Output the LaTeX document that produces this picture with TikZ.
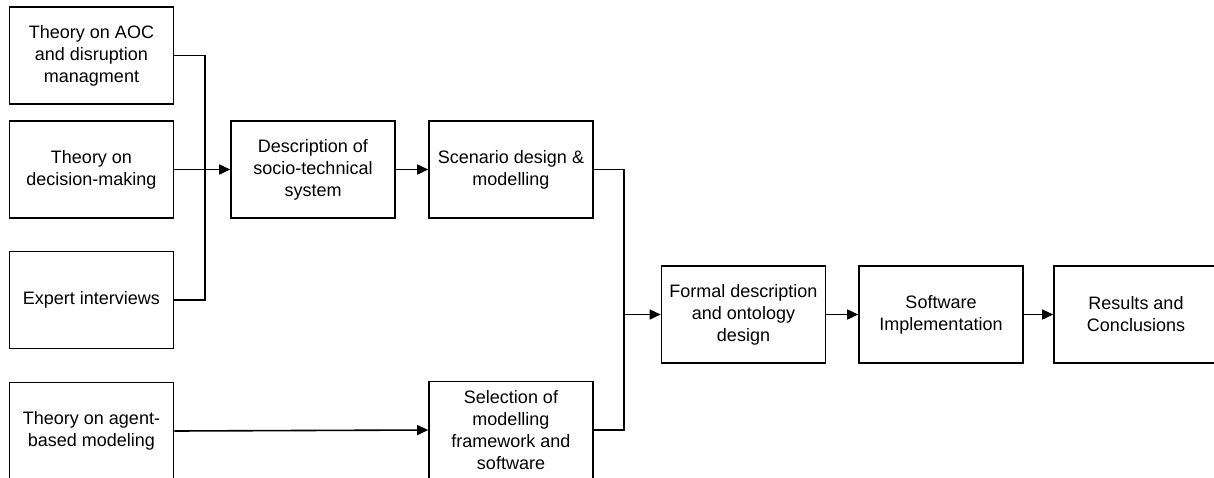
\documentclass[tikz,border=0pt]{standalone}
\usepackage{fontspec}
\setmainfont{Liberation Sans}
\usetikzlibrary{arrows.meta}
\begin{document}
\begin{tikzpicture}[x=1pt,y=-1pt,
  stepbox/.style={draw=black,line width=1.6pt,minimum width=164pt,minimum height=97pt,
    inner sep=0pt,align=center,font=\fontsize{18}{22}\selectfont},
  link/.style={draw=black,line width=1.6pt},
  flow/.style={link,-{Triangle[length=11pt,width=10pt]}}]
\useasboundingbox (0,0) rectangle (1214,477);
\clip (0,0) rectangle (1214,477);
% input sources
\node[stepbox] (A) at (91.5,55.5)  {Theory on AOC\\and disruption\\managment};
\node[stepbox] (B) at (91.5,169.5) {Theory on\\decision-making};
\node[stepbox] (C) at (91.5,300)   {Expert interviews};
\node[stepbox] (D) at (91.5,431)   {Theory on agent-\\based modeling};
% analysis steps
\node[stepbox] (E) at (313,169.5) {Description of\\socio-technical\\system};
\node[stepbox] (F) at (511,169.5) {Scenario design \&\\modelling};
\node[stepbox] (J) at (511,430)   {Selection of\\modelling\\framework and\\software};
% main chain
\node[stepbox] (G) at (743.5,314.5) {Formal description\\and ontology\\design};
\node[stepbox] (H) at (941,314.5)   {Software\\Implementation};
\node[stepbox] (I) at (1136,314.5)  {Results and\\Conclusions};
% collecting bus on the left
\coordinate (busL) at (205,0);
\draw[link] (A.east) -- (A.east -| busL) -- (C.east -| busL) -- (C.east);
\draw[flow] (B.east) -- (E.west);
\draw[flow] (E.east) -- (F.west);
\draw[flow] (D.east) -- (J.west);
% collecting bus in the middle
\coordinate (busM) at (624,0);
\draw[link] (F.east) -- (F.east -| busM) -- (J.east -| busM) -- (J.east);
\draw[flow] (G.west -| busM) -- (G.west);
\draw[flow] (G.east) -- (H.west);
\draw[flow] (H.east) -- (I.west);
\end{tikzpicture}
\end{document}
